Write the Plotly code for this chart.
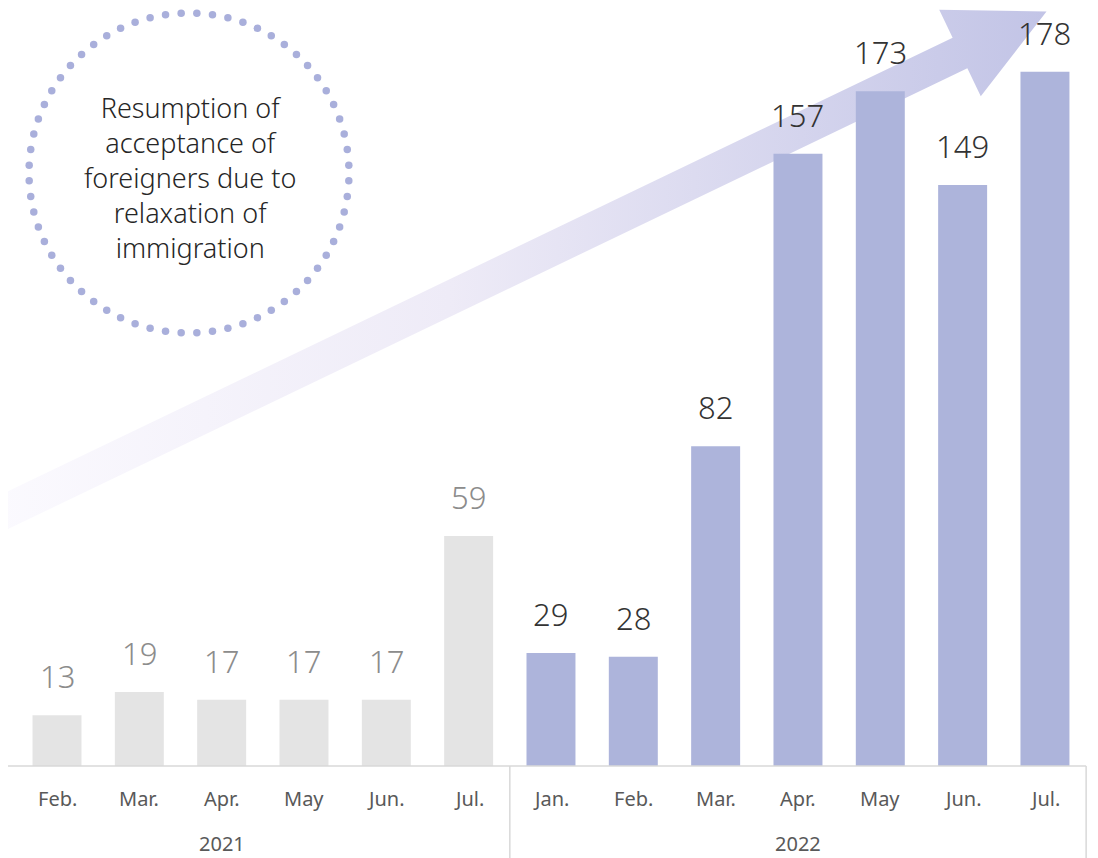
import numpy as np
import plotly.graph_objects as go

# Data
months = ['Feb.', 'Mar.', 'Apr.', 'May', 'Jun.', 'Jul.',
          'Jan.', 'Feb.', 'Mar.', 'Apr.', 'May', 'Jun.', 'Jul.']
years = ['2021'] * 6 + ['2022'] * 7
values = [13, 19, 17, 17, 17, 59, 29, 28, 82, 157, 173, 149, 178]
year_labels = ['2021', '2022']
# group centres in category units (the 2021 group starts with Jan., out of view)
year_centers = [2.0, 9.0]
note_text = 'Resumption of<br>acceptance of<br>foreigners due to<br>relaxation of<br>immigration'

# Page geometry (pixels of the browser window)
W, H = 1098, 858
OFF = 8             # default body margin of the page
BASE = 766          # baseline of bars
PX_PER = 3.9        # pixels per unit
STEP = 82.33        # pixels per category
X0 = 57             # centre of first bar

FONT = 'Noto Sans'
bar_colors = ['#e4e4e4' if y == '2021' else '#adb4db' for y in years]
label_colors = ['#8c8c8c' if y == '2021' else '#333333' for y in years]

idx = np.arange(len(values))


def paper_y(py):
    return 1 - (py - OFF) / (H - OFF)


fig = go.Figure()

# Decorative arrow (window pixel coordinates on the base axes, behind bars)
mid = np.array([960.0, 53.0])
u = np.array([960.0, 53.0 - 514.0])
u = u / np.linalg.norm(u)
n = np.array([-u[1], u[0]])
if n[1] < 0:
    n = -n
tail = mid - 1100 * u
tip = mid + 96 * u
hw, HW = 17, 48
poly = np.array([tail + hw * n, mid + hw * n, mid + HW * n, tip,
                 mid - HW * n, mid - hw * n, tail - hw * n, tail + hw * n])
fig.add_trace(go.Scatter(
    x=poly[:, 0], y=poly[:, 1],
    mode='lines', fill='toself',
    line=dict(width=0, color='rgba(0,0,0,0)'),
    fillgradient=dict(
        type='horizontal',
        colorscale=[[0, '#fcfbff'], [0.45, '#eeebf7'], [1, '#c2c4e6']],
    ),
    hoverinfo='skip', showlegend=False,
    xaxis='x', yaxis='y',
))

# Dotted circle
theta = np.linspace(0, 2 * np.pi, 64, endpoint=False) + np.pi / 64
fig.add_trace(go.Scatter(
    x=189 + 160 * np.cos(theta), y=173 + 160 * np.sin(theta),
    mode='markers',
    marker=dict(size=7.5, color='#a9afdb'),
    hoverinfo='skip', showlegend=False,
    xaxis='x', yaxis='y',
))

# Bars
fig.add_trace(go.Bar(
    x=idx, y=values,
    width=0.595,
    marker=dict(color=bar_colors, line=dict(width=0)),
    showlegend=False,
    xaxis='x2', yaxis='y2',
))

# Data labels
for i, v in enumerate(values):
    fig.add_annotation(
        x=i, y=v, xref='x2', yref='y2',
        text=str(v), showarrow=False,
        yanchor='middle', yshift=39,
        font=dict(family=FONT, size=31, color=label_colors[i], weight=300),
    )

# Month labels
for i, m in enumerate(months):
    fig.add_annotation(
        x=i, y=paper_y(798), xref='x2', yref='paper',
        text=m, showarrow=False, yanchor='middle',
        font=dict(family=FONT, size=20, color='#595959'),
    )

# Year labels
for yl, xc in zip(year_labels, year_centers):
    fig.add_annotation(
        x=xc, y=paper_y(843), xref='x2', yref='paper',
        text=yl, showarrow=False, yanchor='middle',
        font=dict(family=FONT, size=20, color='#595959'),
    )

# Circle text
fig.add_annotation(
    x=190, y=177, xref='x', yref='y',
    text=note_text, showarrow=False,
    font=dict(family=FONT, size=27, color='#262626', weight=300),
)

# Category axis lines
x_left = (OFF - X0) / STEP
y_bottom = -(H - BASE) / PX_PER
fig.add_shape(type='line', xref='x2', yref='y2',
              x0=x_left, x1=len(values) - 0.5, y0=0, y1=0,
              line=dict(color='#d9d9d9', width=1.5))
for xs in [5.5, len(values) - 0.5]:
    fig.add_shape(type='line', xref='x2', yref='y2',
                  x0=xs, x1=xs, y0=0, y1=y_bottom,
                  line=dict(color='#d9d9d9', width=1.5))

fig.update_layout(
    width=W - OFF, height=H - OFF,
    margin=dict(l=0, r=0, t=0, b=0),
    paper_bgcolor='white', plot_bgcolor='rgba(0,0,0,0)',
    xaxis=dict(range=[OFF, W], visible=False, domain=[0, 1]),
    yaxis=dict(range=[H, OFF], visible=False, domain=[0, 1]),
    xaxis2=dict(range=[x_left, (W - X0) / STEP], visible=False,
                overlaying='x'),
    yaxis2=dict(range=[y_bottom, (BASE - OFF) / PX_PER], visible=False,
                overlaying='y'),
)

fig.write_html('out.html')
